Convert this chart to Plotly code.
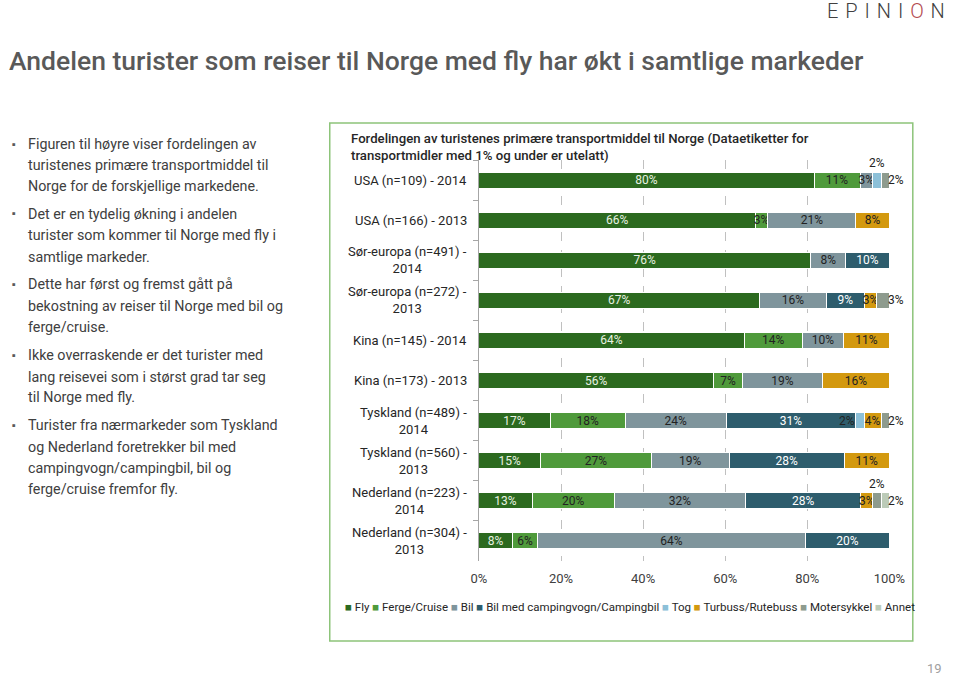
import plotly.graph_objects as go

# ---------------- DATA ----------------
categories = [
    "USA (n=109) - 2014", "USA (n=166) - 2013",
    "Sør-europa (n=491) - 2014", "Sør-europa (n=272) - 2013",
    "Kina (n=145) - 2014", "Kina (n=173) - 2013",
    "Tyskland (n=489) - 2014", "Tyskland (n=560) - 2013",
    "Nederland (n=223) - 2014", "Nederland (n=304) - 2013",
]
category_labels = [
    "USA (n=109) - 2014", "USA (n=166) - 2013",
    "Sør-europa (n=491) -<br>2014", "Sør-europa (n=272) -<br>2013",
    "Kina (n=145) - 2014", "Kina (n=173) - 2013",
    "Tyskland (n=489) -<br>2014", "Tyskland (n=560) -<br>2013",
    "Nederland (n=223) -<br>2014", "Nederland (n=304) -<br>2013",
]
series_names = ["Fly", "Ferge/Cruise", "Bil", "Bil med campingvogn/Campingbil",
                "Tog", "Turbuss/Rutebuss", "Motersykkel", "Annet"]
fly      = [80, 66, 76, 67, 64, 56, 17, 15, 13, 8]
ferge    = [11, 3, 0, 0, 14, 7, 18, 27, 20, 6]
bil      = [3, 21, 8, 16, 10, 19, 24, 19, 32, 64]
camping  = [0, 0, 10, 9, 0, 0, 31, 28, 28, 20]
tog      = [2, 0, 0, 0, 0, 0, 2, 0, 0, 0]
turbuss  = [0, 8, 0, 3, 11, 16, 4, 11, 3, 0]
moter    = [2, 0, 0, 3, 0, 0, 2, 0, 2, 0]
annet    = [0, 0, 0, 0, 0, 0, 0, 0, 2, 0]
x_ticks = [0, 20, 40, 60, 80, 100]

title_text = "Andelen turister som reiser til Norge med fly har økt i samtlige markeder"
chart_title_lines = [
    "Fordelingen av turistenes primære transportmiddel til Norge (Dataetiketter for",
    "transportmidler med 1% og under er utelatt)",
]
bullets = [
    ["Figuren til høyre viser fordelingen av", "turistenes primære transportmiddel til",
     "Norge for de forskjellige markedene."],
    ["Det er en tydelig økning i andelen", "turister som kommer til Norge med fly i",
     "samtlige markeder."],
    ["Dette har først og fremst gått på", "bekostning av reiser til Norge med bil og",
     "ferge/cruise."],
    ["Ikke overraskende er det turister med", "lang reisevei som i størst grad tar seg",
     "til Norge med fly."],
    ["Turister fra nærmarkeder som Tyskland", "og Nederland foretrekker bil med",
     "campingvogn/campingbil, bil og", "ferge/cruise fremfor fly."],
]

# ---------------- STYLE ----------------
W, H = 960, 675
FONT = "Roboto, 'Open Sans', sans-serif"
colors = ["#2c6a1f", "#4f9a3b", "#7f959c", "#2e5d6d", "#8cc0d8", "#d3990f", "#8e9b8e", "#bccbb8"]
label_colors = ["#e8f2e2", "#222222", "#222222", "#ffffff", "#222222", "#222222", "#222222", "#222222"]
series_values = [fly, ferge, bil, camping, tog, turbuss, moter, annet]

# special label placement (row index, series index) -> position
special = {(0, 4): "above", (0, 6): "right",
           (6, 4): "left", (6, 6): "right",
           (3, 6): "right",
           (8, 6): "above", (8, 7): "right"}

def px(x):
    return x / W

def py(y):
    return 1 - y / H

fig = go.Figure()
for s, (name, vals) in enumerate(zip(series_names, series_values)):
    texts = []
    for r, v in enumerate(vals):
        if v > 1 and (r, s) not in special:
            texts.append(f"{v}%")
        else:
            texts.append("")
    fig.add_trace(go.Bar(
        y=categories, x=vals, name=name, orientation="h",
        marker=dict(color=colors[s], line=dict(color="#ffffff", width=1)),
        text=texts, textposition="inside", insidetextanchor="middle",
        textangle=0, textfont=dict(color=label_colors[s], size=12, family=FONT),
        showlegend=False, hoverinfo="skip",
    ))

annotations = []
# special labels, positioned from normalized cumulative data
totals = [sum(sv[r] for sv in series_values) for r in range(len(categories))]
for (r, s), pos in special.items():
    v = series_values[s][r]
    start = sum(series_values[k][r] for k in range(s)) / totals[r] * 100
    end = start + v / totals[r] * 100
    mid = (start + end) / 2
    a = dict(xref="x", yref="y", y=categories[r], text=f"{v}%", showarrow=False,
             font=dict(size=12, color="#222222", family=FONT))
    if pos == "above":
        a.update(x=mid, xanchor="center", yshift=17)
    elif pos == "right":
        a.update(x=100, xanchor="left", xshift=-3)
    elif pos == "left":
        a.update(x=start, xanchor="right", xshift=1)
    annotations.append(a)

# category labels
for cat, lab in zip(categories, category_labels):
    annotations.append(dict(xref="paper", yref="y", x=px(473), y=cat, text=lab,
                            xanchor="right", yanchor="middle", align="center", showarrow=False,
                            font=dict(size=13, color="#262626", family=FONT)))

# page title
annotations.append(dict(xref="paper", yref="paper", x=px(-1), y=py(60), text=title_text,
                        xanchor="left", yanchor="middle", showarrow=False,
                        font=dict(size=26.5, color="#595959", family=FONT, weight=500)))
# logo
sp = " \u200a"
logo = sp.join(["E", "P", "I", "N", "I", "<span style='color:#b34a4f'>O</span>", "N"])
annotations.append(dict(xref="paper", yref="paper", x=px(963), y=py(11), text=logo,
                        xanchor="right", yanchor="middle", showarrow=False,
                        font=dict(size=20, color="#404040", family=FONT, weight=300)))
# page number
annotations.append(dict(xref="paper", yref="paper", x=px(960), y=py(668), text="19",
                        xanchor="right", yanchor="middle", showarrow=False,
                        font=dict(size=13, color="#a0a0a0", family=FONT)))
# chart title
for i, line in enumerate(chart_title_lines):
    annotations.append(dict(xref="paper", yref="paper", x=px(350), y=py(138 + 17 * i), text=line,
                            xanchor="left", yanchor="middle", showarrow=False,
                            font=dict(size=13.2, color="#262626", family=FONT, weight=500)))
# bullets
line_y = [[144, 165, 186], [214, 235, 257], [284, 306, 327], [355, 377, 397], [425, 447, 468, 489]]
for para, ys in zip(bullets, line_y):
    annotations.append(dict(xref="paper", yref="paper", x=px(2), y=py(ys[0]), text="▪",
                            xanchor="left", yanchor="middle", showarrow=False,
                            font=dict(size=11, color="#595959", family=FONT)))
    for line, yy in zip(para, ys):
        annotations.append(dict(xref="paper", yref="paper", x=px(18), y=py(yy), text=line,
                                xanchor="left", yanchor="middle", showarrow=False,
                                font=dict(size=14.3, color="#404040", family=FONT)))
# legend
leg_parts = []
for name, c in zip(series_names, colors):
    leg_parts.append(f"<span style='color:{c}'>■</span> {name}")
annotations.append(dict(xref="paper", yref="paper", x=px(344), y=py(607), text=" ".join(leg_parts),
                        xanchor="left", yanchor="middle", showarrow=False,
                        font=dict(size=11.5, color="#262626", family=FONT)))

fig.update_layout(
    width=W, height=H, margin=dict(l=0, r=0, t=0, b=0),
    paper_bgcolor="#ffffff", plot_bgcolor="#ffffff",
    barmode="stack", barnorm="percent", bargap=0.6,
    uniformtext=dict(minsize=12, mode="show"),
    font=dict(family=FONT, color="#262626"),
    xaxis=dict(domain=[px(483), px(904)], range=[0, 100], tickvals=x_ticks,
               ticktext=[f"{t}%" for t in x_ticks], showgrid=True, gridcolor="#c0c0c0",
               griddash="dash", gridwidth=1, zeroline=False, showline=False,
               tickfont=dict(size=13, color="#404040"), ticks="outside", ticklen=5,
               tickcolor="rgba(0,0,0,0)"),
    yaxis=dict(domain=[py(561), py(160)], type="category", categoryorder="array",
               categoryarray=categories, autorange="reversed", showticklabels=False,
               showline=True, linecolor="#a6a6a6", ticks="outside", tickson="boundaries",
               ticklen=5, tickcolor="#a6a6a6", showgrid=False),
    shapes=[dict(type="rect", xref="paper", yref="paper", x0=px(330), x1=px(928),
                 y0=py(641), y1=py(123), line=dict(color="#8dc47a", width=1.5))],
    annotations=annotations,
)
fig.write_html("out.html", post_script="document.body.style.margin='0';",
               config={"displayModeBar": False})
